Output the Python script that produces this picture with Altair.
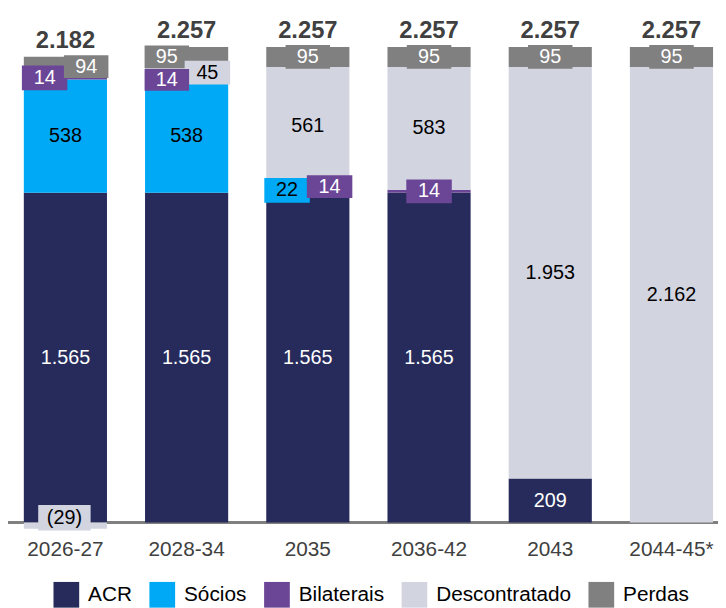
import altair as alt
import pandas as pd

categories = ["2026-27", "2028-34", "2035", "2036-42", "2043", "2044-45*"]
series = ["ACR", "Sócios", "Bilaterais", "Descontratado", "Perdas"]
acr = [1565, 1565, 1565, 1565, 209, 0]
socios = [538, 538, 22, 0, 0, 0]
bilaterais = [14, 14, 14, 14, 0, 0]
descontratado = [-29, 45, 561, 583, 1953, 2162]
perdas = [94, 95, 95, 95, 95, 95]

values = {"ACR": acr, "Sócios": socios, "Bilaterais": bilaterais,
          "Descontratado": descontratado, "Perdas": perdas}

fill = {"ACR": "#262B5B", "Sócios": "#00A9F5", "Bilaterais": "#6B4697",
        "Descontratado": "#D2D4E0", "Perdas": "#808080"}
txt = {"ACR": "white", "Sócios": "black", "Bilaterais": "white",
       "Descontratado": "black", "Perdas": "white"}

# label boxes: (category, series) -> (dx, dy, box width, box height)
boxes = {
    ("2026-27", "Bilaterais"): (-21, 0, 46, 25),
    ("2026-27", "Perdas"): (21, 0, 45, 23),
    ("2026-27", "Descontratado"): (-1, -8, 53, 26),
    ("2028-34", "Perdas"): (-20, 0, 45, 23),
    ("2028-34", "Descontratado"): (21, 1, 46, 24),
    ("2028-34", "Bilaterais"): (-20, 2, 45, 22),
    ("2035", "Perdas"): (0, 0, 45, 24),
    ("2035", "Sócios"): (-21, 0, 46, 25),
    ("2035", "Bilaterais"): (22, 0, 46, 23),
    ("2036-42", "Bilaterais"): (0, 0, 46, 24),
    ("2036-42", "Perdas"): (0, 0, 45, 24),
    ("2043", "Perdas"): (0, 0, 45, 24),
    ("2044-45*", "Perdas"): (0, 0, 45, 24),
}


def fmt(v):
    s = f"{abs(v):,}".replace(",", ".")
    return f"({s})" if v < 0 else s


rows = []
tot_rows = []
for i, c in enumerate(categories):
    pos = 0
    neg = 0
    for s in series:
        v = values[s][i]
        if v == 0:
            continue
        if v > 0:
            y0, y1 = pos, pos + v
            pos += v
        else:
            y0, y1 = neg + v, neg
            neg += v
        rows.append({"cat": c, "series": s, "v": v, "y0": y0, "y1": y1,
                     "mid": (y0 + y1) / 2, "label": fmt(v), "tc": txt[s],
                     "boxed": 1 if (c, s) in boxes else 0})
    tot_rows.append({"cat": c, "top": pos, "label": fmt(sum(values[s][i] for s in series))})

seg = pd.DataFrame(rows)
tot = pd.DataFrame(tot_rows)

FONT = "Liberation Sans"
W, H = 697, 527
yscale = alt.Scale(domain=[-47, 2426], nice=False, zero=False)
xscale = alt.Scale(domain=categories, paddingInner=0.314, paddingOuter=0)
X = alt.X("cat:N", scale=xscale, sort=categories,
          axis=alt.Axis(title=None, domain=False, ticks=False, labelAngle=0,
                        labelFontSize=21, labelColor="#404040", labelFont=FONT,
                        labelPadding=6))
Ymid = alt.Y("mid:Q", scale=yscale, axis=None)

base = alt.Chart(seg)

rule = base.mark_rule(color="#7f7f7f", strokeWidth=1.5).encode(
    y=alt.datum(0, scale=yscale, axis=None),
    x=alt.value(-19), x2=alt.value(W + 5))

bars = base.mark_bar().encode(
    x=X,
    y=alt.Y("y0:Q", scale=yscale, axis=None),
    y2="y1:Q",
    color=alt.Color("series:N",
                    scale=alt.Scale(domain=series, range=[fill[s] for s in series]),
                    legend=alt.Legend(orient="none", legendX=30, legendY=577,
                                      direction="horizontal", title=None,
                                      symbolType="square", symbolSize=676,
                                      symbolStrokeWidth=0, labelFontSize=21,
                                      labelFont=FONT, labelColor="black",
                                      labelOffset=9, columnPadding=17, padding=0)),
)

layers = [rule, bars]
for colr in ["white", "black"]:
    layers.append(
        base.transform_filter((alt.datum.boxed == 0) & (alt.datum.tc == colr))
        .mark_text(fontSize=20, font=FONT, baseline="middle", color=colr)
        .encode(x=X, y=Ymid, text="label:N"))

for (c, s), (dx, dy, w, h) in boxes.items():
    sub = base.transform_filter((alt.datum.cat == c) & (alt.datum.series == s))
    layers.append(sub.mark_tick(color=fill[s], opacity=1, size=w, thickness=h,
                                xOffset=dx, yOffset=dy).encode(x=X, y=Ymid))
    layers.append(sub.mark_text(fontSize=20, font=FONT, baseline="middle",
                                color=txt[s], xOffset=dx, yOffset=dy).encode(
        x=X, y=Ymid, text="label:N"))

totals = alt.Chart(tot).mark_text(fontSize=24, font=FONT, fontWeight="bold",
                                  color="#404040", baseline="alphabetic", dy=-9).encode(
    x=X, y=alt.Y("top:Q", scale=yscale, axis=None), text="label:N")
layers.append(totals)

chart = alt.layer(*layers).properties(
    width=W, height=H,
    autosize=alt.AutoSizeParams(type="none"),
    padding={"left": 16, "top": 0, "right": 5, "bottom": 77},
).configure_view(stroke=None)

chart.save("out.html", embed_options={"renderer": "svg", "actions": False})
